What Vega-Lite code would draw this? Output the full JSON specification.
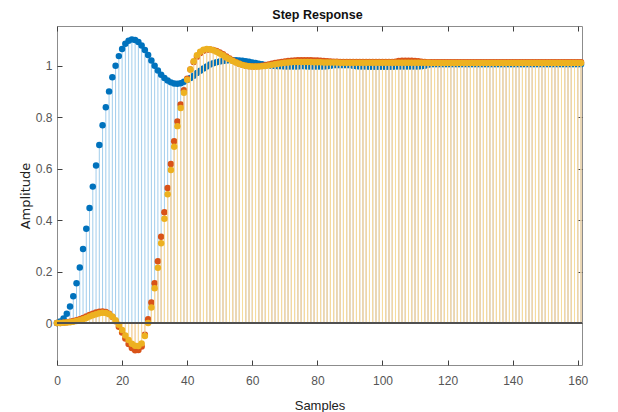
{
  "$schema": "https://vega.github.io/schema/vega-lite/v6.json",
  "width": 525,
  "height": 339,
  "autosize": {"type": "none"},
  "padding": {"left": 57, "top": 26, "right": 36, "bottom": 47},
  "background": "white",
  "title": {
    "text": "Step Response",
    "font": "Liberation Sans, Arial, sans-serif",
    "fontWeight": "bold",
    "fontSize": 12.5,
    "color": "#111111",
    "anchor": "middle",
    "baseline": "alphabetic",
    "offset": -6,
    "dx": -2
  },
  "config": {
    "view": {"stroke": "#8c8c8c", "strokeWidth": 1},
    "axis": {
      "domain": false,
      "grid": false,
      "tickColor": "#404040",
      "tickWidth": 1,
      "tickSize": -5,
      "labelFont": "Liberation Sans, Arial, sans-serif",
      "labelFontSize": 12,
      "labelColor": "#555555",
      "titleColor": "#222222",
      "titleFontWeight": "normal",
      "zindex": 1
    }
  },
  "data": {
    "values": [
      {"n": 0, "y1": 0, "y2": 0, "y3": 0},
      {"n": 1, "y1": 0.006, "y2": 0, "y3": 0},
      {"n": 2, "y1": 0.018, "y2": 0.001, "y3": 0.001},
      {"n": 3, "y1": 0.036, "y2": 0.003, "y3": 0.002},
      {"n": 4, "y1": 0.064, "y2": 0.005, "y3": 0.003},
      {"n": 5, "y1": 0.104, "y2": 0.008, "y3": 0.005},
      {"n": 6, "y1": 0.155, "y2": 0.011, "y3": 0.008},
      {"n": 7, "y1": 0.216, "y2": 0.015, "y3": 0.011},
      {"n": 8, "y1": 0.288, "y2": 0.02, "y3": 0.015},
      {"n": 9, "y1": 0.366, "y2": 0.025, "y3": 0.02},
      {"n": 10, "y1": 0.447, "y2": 0.031, "y3": 0.025},
      {"n": 11, "y1": 0.53, "y2": 0.036, "y3": 0.03},
      {"n": 12, "y1": 0.612, "y2": 0.041, "y3": 0.034},
      {"n": 13, "y1": 0.692, "y2": 0.044, "y3": 0.038},
      {"n": 14, "y1": 0.768, "y2": 0.045, "y3": 0.04},
      {"n": 15, "y1": 0.838, "y2": 0.043, "y3": 0.039},
      {"n": 16, "y1": 0.9, "y2": 0.036, "y3": 0.034},
      {"n": 17, "y1": 0.955, "y2": 0.024, "y3": 0.025},
      {"n": 18, "y1": 1.0, "y2": 0.007, "y3": 0.011},
      {"n": 19, "y1": 1.037, "y2": -0.014, "y3": -0.007},
      {"n": 20, "y1": 1.065, "y2": -0.037, "y3": -0.027},
      {"n": 21, "y1": 1.085, "y2": -0.06, "y3": -0.048},
      {"n": 22, "y1": 1.097, "y2": -0.081, "y3": -0.066},
      {"n": 23, "y1": 1.102, "y2": -0.097, "y3": -0.08},
      {"n": 24, "y1": 1.1, "y2": -0.106, "y3": -0.088},
      {"n": 25, "y1": 1.092, "y2": -0.105, "y3": -0.089},
      {"n": 26, "y1": 1.078, "y2": -0.091, "y3": -0.079},
      {"n": 27, "y1": 1.061, "y2": -0.045, "y3": -0.05},
      {"n": 28, "y1": 1.041, "y2": 0.015, "y3": 0.0},
      {"n": 29, "y1": 1.02, "y2": 0.08, "y3": 0.06},
      {"n": 30, "y1": 1.0, "y2": 0.155, "y3": 0.135},
      {"n": 31, "y1": 0.981, "y2": 0.24, "y3": 0.215},
      {"n": 32, "y1": 0.965, "y2": 0.335, "y3": 0.31},
      {"n": 33, "y1": 0.952, "y2": 0.43, "y3": 0.405},
      {"n": 34, "y1": 0.942, "y2": 0.525, "y3": 0.5},
      {"n": 35, "y1": 0.935, "y2": 0.618, "y3": 0.595},
      {"n": 36, "y1": 0.931, "y2": 0.706, "y3": 0.685},
      {"n": 37, "y1": 0.93, "y2": 0.783, "y3": 0.765},
      {"n": 38, "y1": 0.932, "y2": 0.849, "y3": 0.835},
      {"n": 39, "y1": 0.937, "y2": 0.904, "y3": 0.895},
      {"n": 40, "y1": 0.944, "y2": 0.949, "y3": 0.945},
      {"n": 41, "y1": 0.952, "y2": 0.985, "y3": 0.985},
      {"n": 42, "y1": 0.961, "y2": 1.014, "y3": 1.017},
      {"n": 43, "y1": 0.971, "y2": 1.035, "y3": 1.04},
      {"n": 44, "y1": 0.98, "y2": 1.049, "y3": 1.054},
      {"n": 45, "y1": 0.989, "y2": 1.058, "y3": 1.062},
      {"n": 46, "y1": 0.997, "y2": 1.062, "y3": 1.065},
      {"n": 47, "y1": 1.004, "y2": 1.063, "y3": 1.064},
      {"n": 48, "y1": 1.009, "y2": 1.061, "y3": 1.06},
      {"n": 49, "y1": 1.013, "y2": 1.057, "y3": 1.054},
      {"n": 50, "y1": 1.016, "y2": 1.051, "y3": 1.047},
      {"n": 51, "y1": 1.018, "y2": 1.044, "y3": 1.04},
      {"n": 52, "y1": 1.02, "y2": 1.036, "y3": 1.032},
      {"n": 53, "y1": 1.021, "y2": 1.028, "y3": 1.025},
      {"n": 54, "y1": 1.021, "y2": 1.02, "y3": 1.018},
      {"n": 55, "y1": 1.021, "y2": 1.013, "y3": 1.012},
      {"n": 56, "y1": 1.02, "y2": 1.007, "y3": 1.007},
      {"n": 57, "y1": 1.019, "y2": 1.003, "y3": 1.003},
      {"n": 58, "y1": 1.017, "y2": 1.0, "y3": 1.0},
      {"n": 59, "y1": 1.015, "y2": 0.998, "y3": 0.998},
      {"n": 60, "y1": 1.012, "y2": 0.997, "y3": 0.997},
      {"n": 61, "y1": 1.01, "y2": 0.997, "y3": 0.997},
      {"n": 62, "y1": 1.007, "y2": 0.998, "y3": 0.997},
      {"n": 63, "y1": 1.005, "y2": 1.0, "y3": 0.998},
      {"n": 64, "y1": 1.003, "y2": 1.002, "y3": 0.999},
      {"n": 65, "y1": 1.001, "y2": 1.004, "y3": 1.001},
      {"n": 66, "y1": 1.0, "y2": 1.007, "y3": 1.003},
      {"n": 67, "y1": 0.999, "y2": 1.01, "y3": 1.005},
      {"n": 68, "y1": 0.998, "y2": 1.012, "y3": 1.007},
      {"n": 69, "y1": 0.998, "y2": 1.014, "y3": 1.009},
      {"n": 70, "y1": 0.997, "y2": 1.016, "y3": 1.011},
      {"n": 71, "y1": 0.997, "y2": 1.018, "y3": 1.012},
      {"n": 72, "y1": 0.997, "y2": 1.019, "y3": 1.013},
      {"n": 73, "y1": 0.997, "y2": 1.02, "y3": 1.014},
      {"n": 74, "y1": 0.997, "y2": 1.021, "y3": 1.014},
      {"n": 75, "y1": 0.998, "y2": 1.021, "y3": 1.014},
      {"n": 76, "y1": 0.998, "y2": 1.021, "y3": 1.014},
      {"n": 77, "y1": 0.997, "y2": 1.021, "y3": 1.014},
      {"n": 78, "y1": 0.997, "y2": 1.021, "y3": 1.014},
      {"n": 79, "y1": 0.997, "y2": 1.02, "y3": 1.013},
      {"n": 80, "y1": 0.997, "y2": 1.02, "y3": 1.013},
      {"n": 81, "y1": 0.997, "y2": 1.019, "y3": 1.013},
      {"n": 82, "y1": 0.997, "y2": 1.018, "y3": 1.012},
      {"n": 83, "y1": 0.998, "y2": 1.017, "y3": 1.012},
      {"n": 84, "y1": 1.0, "y2": 1.016, "y3": 1.012},
      {"n": 85, "y1": 1.002, "y2": 1.015, "y3": 1.012},
      {"n": 86, "y1": 1.002, "y2": 1.015, "y3": 1.012},
      {"n": 87, "y1": 1.002, "y2": 1.014, "y3": 1.011},
      {"n": 88, "y1": 1.002, "y2": 1.014, "y3": 1.011},
      {"n": 89, "y1": 1.002, "y2": 1.014, "y3": 1.011},
      {"n": 90, "y1": 1.002, "y2": 1.014, "y3": 1.011},
      {"n": 91, "y1": 1.0, "y2": 1.014, "y3": 1.011},
      {"n": 92, "y1": 0.998, "y2": 1.014, "y3": 1.011},
      {"n": 93, "y1": 0.997, "y2": 1.014, "y3": 1.011},
      {"n": 94, "y1": 0.997, "y2": 1.014, "y3": 1.011},
      {"n": 95, "y1": 0.997, "y2": 1.014, "y3": 1.011},
      {"n": 96, "y1": 0.996, "y2": 1.014, "y3": 1.011},
      {"n": 97, "y1": 0.996, "y2": 1.014, "y3": 1.011},
      {"n": 98, "y1": 0.996, "y2": 1.014, "y3": 1.011},
      {"n": 99, "y1": 0.996, "y2": 1.014, "y3": 1.011},
      {"n": 100, "y1": 0.996, "y2": 1.014, "y3": 1.011},
      {"n": 101, "y1": 0.996, "y2": 1.014, "y3": 1.011},
      {"n": 102, "y1": 0.996, "y2": 1.014, "y3": 1.011},
      {"n": 103, "y1": 0.996, "y2": 1.014, "y3": 1.011},
      {"n": 104, "y1": 0.997, "y2": 1.015, "y3": 1.011},
      {"n": 105, "y1": 0.997, "y2": 1.018, "y3": 1.011},
      {"n": 106, "y1": 0.997, "y2": 1.019, "y3": 1.011},
      {"n": 107, "y1": 0.997, "y2": 1.019, "y3": 1.011},
      {"n": 108, "y1": 0.997, "y2": 1.019, "y3": 1.011},
      {"n": 109, "y1": 0.997, "y2": 1.019, "y3": 1.011},
      {"n": 110, "y1": 0.997, "y2": 1.018, "y3": 1.011},
      {"n": 111, "y1": 0.997, "y2": 1.017, "y3": 1.011},
      {"n": 112, "y1": 0.998, "y2": 1.015, "y3": 1.011},
      {"n": 113, "y1": 1.0, "y2": 1.014, "y3": 1.011},
      {"n": 114, "y1": 1.003, "y2": 1.013, "y3": 1.011},
      {"n": 115, "y1": 1.005, "y2": 1.013, "y3": 1.01},
      {"n": 116, "y1": 1.005, "y2": 1.013, "y3": 1.01},
      {"n": 117, "y1": 1.005, "y2": 1.013, "y3": 1.01},
      {"n": 118, "y1": 1.005, "y2": 1.013, "y3": 1.01},
      {"n": 119, "y1": 1.005, "y2": 1.013, "y3": 1.01},
      {"n": 120, "y1": 1.005, "y2": 1.013, "y3": 1.01},
      {"n": 121, "y1": 1.005, "y2": 1.013, "y3": 1.01},
      {"n": 122, "y1": 1.005, "y2": 1.013, "y3": 1.01},
      {"n": 123, "y1": 1.005, "y2": 1.013, "y3": 1.01},
      {"n": 124, "y1": 1.005, "y2": 1.013, "y3": 1.01},
      {"n": 125, "y1": 1.005, "y2": 1.013, "y3": 1.01},
      {"n": 126, "y1": 1.005, "y2": 1.013, "y3": 1.01},
      {"n": 127, "y1": 1.005, "y2": 1.013, "y3": 1.01},
      {"n": 128, "y1": 1.005, "y2": 1.013, "y3": 1.01},
      {"n": 129, "y1": 1.005, "y2": 1.013, "y3": 1.01},
      {"n": 130, "y1": 1.005, "y2": 1.013, "y3": 1.01},
      {"n": 131, "y1": 1.005, "y2": 1.013, "y3": 1.01},
      {"n": 132, "y1": 1.005, "y2": 1.013, "y3": 1.01},
      {"n": 133, "y1": 1.005, "y2": 1.013, "y3": 1.01},
      {"n": 134, "y1": 1.005, "y2": 1.013, "y3": 1.01},
      {"n": 135, "y1": 1.005, "y2": 1.013, "y3": 1.01},
      {"n": 136, "y1": 1.005, "y2": 1.013, "y3": 1.01},
      {"n": 137, "y1": 1.005, "y2": 1.013, "y3": 1.01},
      {"n": 138, "y1": 1.005, "y2": 1.013, "y3": 1.01},
      {"n": 139, "y1": 1.005, "y2": 1.013, "y3": 1.01},
      {"n": 140, "y1": 1.005, "y2": 1.013, "y3": 1.01},
      {"n": 141, "y1": 1.005, "y2": 1.013, "y3": 1.01},
      {"n": 142, "y1": 1.005, "y2": 1.013, "y3": 1.01},
      {"n": 143, "y1": 1.005, "y2": 1.013, "y3": 1.01},
      {"n": 144, "y1": 1.005, "y2": 1.013, "y3": 1.01},
      {"n": 145, "y1": 1.005, "y2": 1.013, "y3": 1.01},
      {"n": 146, "y1": 1.005, "y2": 1.013, "y3": 1.01},
      {"n": 147, "y1": 1.005, "y2": 1.013, "y3": 1.01},
      {"n": 148, "y1": 1.005, "y2": 1.013, "y3": 1.01},
      {"n": 149, "y1": 1.005, "y2": 1.013, "y3": 1.01},
      {"n": 150, "y1": 1.005, "y2": 1.013, "y3": 1.01},
      {"n": 151, "y1": 1.005, "y2": 1.013, "y3": 1.01},
      {"n": 152, "y1": 1.005, "y2": 1.013, "y3": 1.01},
      {"n": 153, "y1": 1.005, "y2": 1.013, "y3": 1.01},
      {"n": 154, "y1": 1.005, "y2": 1.013, "y3": 1.01},
      {"n": 155, "y1": 1.005, "y2": 1.013, "y3": 1.01},
      {"n": 156, "y1": 1.005, "y2": 1.013, "y3": 1.01},
      {"n": 157, "y1": 1.005, "y2": 1.013, "y3": 1.01},
      {"n": 158, "y1": 1.005, "y2": 1.013, "y3": 1.01},
      {"n": 159, "y1": 1.005, "y2": 1.013, "y3": 1.01},
      {"n": 160, "y1": 1.005, "y2": 1.013, "y3": 1.01},
      {"n": 161, "y1": 1.005, "y2": 1.013, "y3": 1.01}
    ]
  },
  "resolve": {"axis": {"x": "independent", "y": "independent"}},
  "layer": [
    {
      "mark": {"type": "rule", "stroke": "#a2cdec", "strokeWidth": 1},
      "encoding": {
        "x": {
          "field": "n", "type": "quantitative",
          "scale": {"domain": [0, 161.3], "nice": false, "zero": false},
          "axis": {
            "orient": "bottom",
            "values": [0, 20, 40, 60, 80, 100, 120, 140, 160],
            "format": "d",
            "labelPadding": 15,
            "labelFlush": false,
            "title": "Samples",
            "titleFont": "Liberation Sans, Arial, sans-serif",
            "titleFontSize": 13,
            "titleX": 262.5,
            "titleY": 44,
            "titleAlign": "center",
            "titleBaseline": "alphabetic"
          }
        },
        "y": {
          "field": "y1", "type": "quantitative",
          "scale": {"domain": [-0.163, 1.154], "nice": false, "zero": false},
          "axis": {
            "orient": "left",
            "values": [0, 0.2, 0.4, 0.6, 0.8, 1],
            "format": "~g",
            "labelPadding": 10,
            "labelFlush": false,
            "title": "Amplitude",
            "titleFont": "DejaVu Sans",
            "titleFontSize": 13,
            "titleAngle": -90,
            "titleX": -27.5,
            "titleY": 169.5,
            "titleAlign": "center",
            "titleBaseline": "alphabetic"
          }
        },
        "y2": {"datum": 0}
      }
    },
    {
      "mark": {"type": "point", "filled": true, "fill": "#0072BD", "opacity": 1, "size": 42, "strokeWidth": 0},
      "encoding": {
        "x": {"field": "n", "type": "quantitative", "axis": {
          "orient": "top",
          "values": [0, 20, 40, 60, 80, 100, 120, 140, 160],
          "labels": false,
          "title": null
        }},
        "y": {"field": "y1", "type": "quantitative", "axis": {
          "orient": "right",
          "values": [0, 0.2, 0.4, 0.6, 0.8, 1],
          "labels": false,
          "title": null
        }}
      }
    },
    {
      "mark": {"type": "rule", "stroke": "#f1bda5", "strokeWidth": 1},
      "encoding": {
        "x": {"field": "n", "type": "quantitative", "axis": null},
        "y": {"field": "y2", "type": "quantitative", "axis": null},
        "y2": {"datum": 0}
      }
    },
    {
      "mark": {"type": "point", "filled": true, "fill": "#D95319", "opacity": 1, "size": 42, "strokeWidth": 0},
      "encoding": {
        "x": {"field": "n", "type": "quantitative", "axis": null},
        "y": {"field": "y2", "type": "quantitative", "axis": null}
      }
    },
    {
      "mark": {"type": "rule", "stroke": "#f5dd9e", "strokeWidth": 1},
      "encoding": {
        "x": {"field": "n", "type": "quantitative", "axis": null},
        "y": {"field": "y3", "type": "quantitative", "axis": null},
        "y2": {"datum": 0}
      }
    },
    {
      "mark": {"type": "point", "filled": true, "fill": "#EDB120", "opacity": 1, "size": 42, "strokeWidth": 0},
      "encoding": {
        "x": {"field": "n", "type": "quantitative", "axis": null},
        "y": {"field": "y3", "type": "quantitative", "axis": null}
      }
    },
    {
      "mark": {"type": "rule", "stroke": "#505050", "strokeWidth": 1.2},
      "encoding": {
        "y": {"datum": 0, "type": "quantitative", "axis": null}
      }
    }
  ]
}
